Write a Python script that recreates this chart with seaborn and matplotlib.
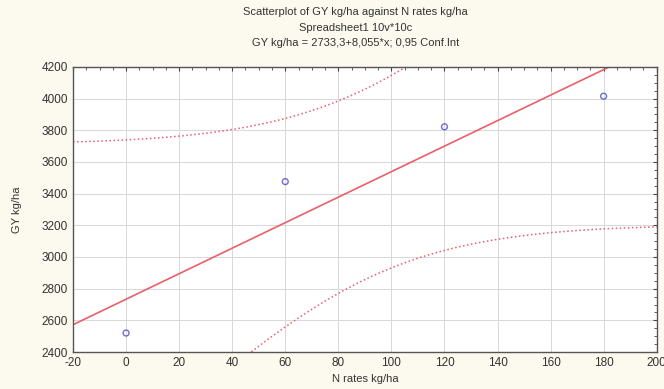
import numpy as np
import matplotlib
matplotlib.use('Agg')
import matplotlib.pyplot as plt
import seaborn as sns
from matplotlib.ticker import MultipleLocator

# data
n_rates = [0, 60, 120, 180]
gy = [2520, 3476, 3822, 4015]

x_ticks = [-20, 0, 20, 40, 60, 80, 100, 120, 140, 160, 180, 200]
y_ticks = [2400, 2600, 2800, 3000, 3200, 3400, 3600, 3800, 4000, 4200]

title_lines = ['Scatterplot of GY kg/ha against N rates kg/ha',
               'Spreadsheet1 10v*10c',
               'GY kg/ha = 2733,3+8,055*x; 0,95 Conf.Int']

sns.set_style('whitegrid')
plt.rcParams['font.family'] = ['Liberation Sans', 'DejaVu Sans']
plt.rcParams['axes.unicode_minus'] = False

fig = plt.figure(figsize=(6.64, 3.89), dpi=100, facecolor='#fcf9ee')
ax = fig.add_axes([0.110, 0.095, 0.879, 0.733])
ax.set_facecolor('white')
ax.set_xlim(-20, 200)
ax.set_ylim(2400, 4200)

sns.regplot(x=n_rates, y=gy, ax=ax, ci=None, truncate=False,
            scatter_kws=dict(s=18, facecolors='none', edgecolors='#4a4ac8', linewidths=1.0),
            line_kws=dict(color='#ea5f6a', lw=1.2))

# 95% confidence band of the fitted line
x = np.array(n_rates, dtype=float)
y = np.array(gy, dtype=float)
slope, icept = np.polyfit(x, y, 1)
resid = y - (icept + slope * x)
s = np.sqrt(np.sum(resid ** 2) / (len(x) - 2))
t_crit = 4.303  # t(0.975, df=2)
xs = np.linspace(-20, 200, 300)
se = s * np.sqrt(1 / len(x) + (xs - x.mean()) ** 2 / np.sum((x - x.mean()) ** 2))
fit = icept + slope * xs
ax.plot(xs, fit + t_crit * se, ls=':', color='#ea5f6a', lw=1.1)
ax.plot(xs, fit - t_crit * se, ls=':', color='#ea5f6a', lw=1.1)

ax.set_xticks(x_ticks)
ax.set_yticks(y_ticks)
ax.xaxis.set_minor_locator(MultipleLocator(5))
ax.yaxis.set_minor_locator(MultipleLocator(50))
ax.tick_params(which='both', direction='in', top=True, right=True, colors='#444444',
               labelcolor='#333333', labelsize=8.5)
ax.tick_params(which='major', length=3, width=0.8)
ax.tick_params(which='minor', length=2, width=0.6)
ax.grid(True, which='major', color='#d8d8d8', lw=0.7)
for sp in ax.spines.values():
    sp.set_color('#555555')
    sp.set_linewidth(1.0)

ax.set_xlabel('N rates kg/ha', fontsize=8, color='#333333', labelpad=4)
ax.set_ylabel('GY kg/ha', fontsize=8, color='#333333', labelpad=14)

for i, line in enumerate(title_lines):
    fig.text(0.535, 0.968 - i * 0.039, line, ha='center', va='center',
             fontsize=8, color='#333333')

fig.savefig('out.png', dpi=100, facecolor=fig.get_facecolor())
